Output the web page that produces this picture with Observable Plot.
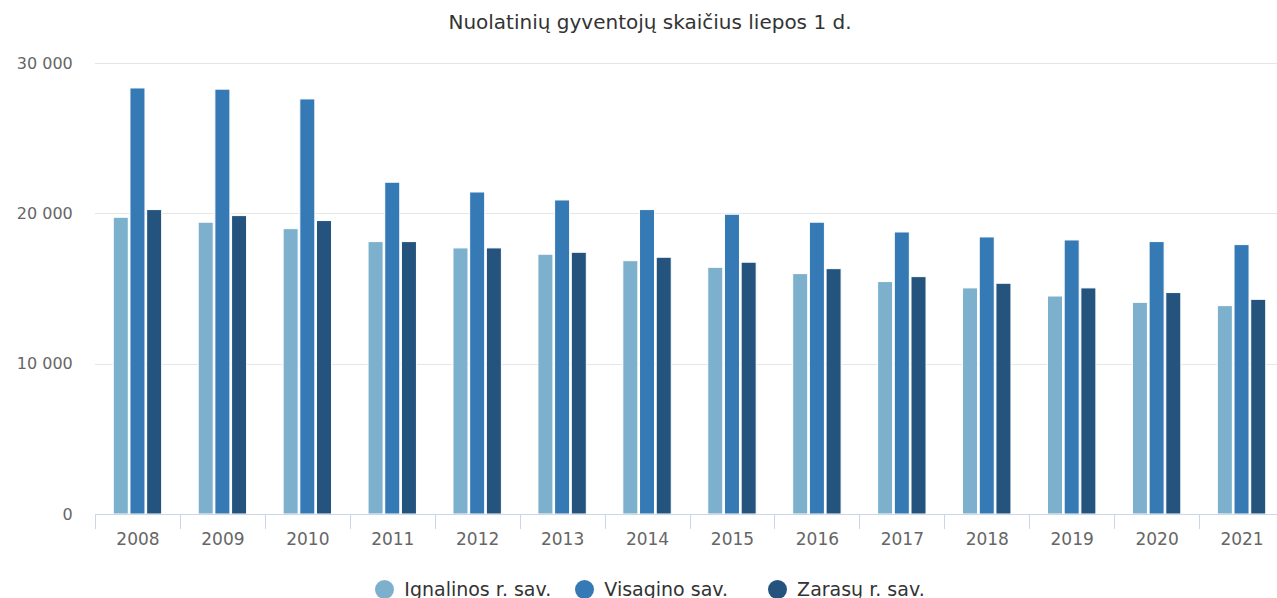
<!DOCTYPE html>
<html><head><meta charset="utf-8">
<script src="https://cdn.jsdelivr.net/npm/d3@7"></script>
<script src="https://cdn.jsdelivr.net/npm/@observablehq/plot@0.6"></script>
<style>
html,body{margin:0;padding:0;background:#fff;overflow:hidden;}
#wrap{width:1300px;font-family:"DejaVu Sans",sans-serif;}
#title{height:45px;line-height:45px;text-align:center;font-size:20px;color:#333;}
#legend{display:flex;justify-content:center;align-items:center;padding-top:15px;height:20px;font-size:19px;color:#333;}
#legend .item{display:flex;align-items:center;gap:10px;white-space:nowrap;}
#legend .item + .item{margin-left:24px;}
#legend .item:nth-child(3){margin-left:40px;}
#legend .dot{width:19px;height:19px;border-radius:50%;display:inline-block;}
</style></head><body>
<div id="wrap"><div id="title">Nuolatinių gyventojų skaičius liepos 1 d.</div><div id="chart"></div><div id="legend"></div></div>
<script>
const years = [2008,2009,2010,2011,2012,2013,2014,2015,2016,2017,2018,2019,2020,2021];
const seriesNames = ["Ignalinos r. sav.","Visagino sav.","Zarasų r. sav."];
const ignalina  = [19740,19410,18980,18120,17700,17280,16850,16410,15990,15460,15040,14500,14080,13860];
const visaginas = [28340,28260,27610,22070,21420,20890,20250,19940,19410,18760,18430,18230,18120,17920];
const zarasai   = [20250,19850,19520,18120,17700,17410,17080,16750,16320,15790,15350,15040,14730,14280];
const colors = ["#7cb0cc","#3579b5","#24547e"];
const yTicks = [0,10000,20000,30000];

const seriesValues = [ignalina, visaginas, zarasai];
const data = years.flatMap((yr,i)=>seriesNames.map((s,k)=>({year:yr, series:s, value:seriesValues[k][i]})));
const loc = d3.formatLocale({thousands:"\u00a0", grouping:[3], decimal:",", currency:["",""]});
const fmt = loc.format(",");

const plot = Plot.plot({
  width:1300, height:519, marginLeft:95, marginRight:16, marginTop:18, marginBottom:50,
  style:{fontFamily:"DejaVu Sans, sans-serif", fontSize:"17px", color:"#666", background:"#fff", overflow:"visible"},
  fx:{domain:years, paddingInner:0.43, paddingOuter:0.215, round:false, label:null, axis:null},
  x:{domain:seriesNames, paddingInner:0.1, paddingOuter:0, round:false, axis:null},
  y:{domain:[0,30000], label:null, axis:null},
  color:{domain:seriesNames, range:colors},
  marks:[
    Plot.axisY(yTicks, {tickSize:0, tickPadding:41, tickFormat:fmt, fill:"#666", fontSize:16, label:null}),
    Plot.barY(data, {fx:"year", x:"series", y:"value", fill:"series", stroke:"white", strokeWidth:1}),
    Plot.axisFx({anchor:"bottom", tickSize:0, tickPadding:18, tickFormat:d=>String(d), fill:"#666", fontSize:17, label:null})
  ]
});
document.getElementById("chart").appendChild(plot);

const svgEl = plot.tagName.toLowerCase()==="svg" ? plot : plot.querySelector("svg");
const fxs = plot.scale("fx");
const ys = plot.scale("y");
const [xL, xR] = fxs.range;
const y0 = ys.apply(0);

// horizontal grid lines (behind bars) from the y scale
d3.select(svgEl).insert("g","g").attr("stroke","#e6e6e6").attr("stroke-width",1)
  .selectAll("line").data(yTicks.filter(d=>d>0)).join("line")
  .attr("x1",xL).attr("x2",xR)
  .attr("y1",d=>Math.round(ys.apply(d))+0.5).attr("y2",d=>Math.round(ys.apply(d))+0.5);

// x axis baseline and category boundary tick marks (Highcharts style)
const off = (fxs.step - fxs.bandwidth)/2;
const bounds = years.map(yr=>fxs.apply(yr)-off).concat([fxs.apply(years[years.length-1])+fxs.bandwidth+off]);
const ax = d3.select(svgEl).append("g").attr("stroke","#ccd6eb").attr("stroke-width",1);
ax.append("line").attr("x1",xL).attr("x2",xR).attr("y1",Math.round(y0)+0.5).attr("y2",Math.round(y0)+0.5);
ax.selectAll("line.tk").data(bounds).join("line").attr("class","tk")
  .attr("x1",d=>Math.round(d)+0.5).attr("x2",d=>Math.round(d)+0.5)
  .attr("y1",y0).attr("y2",y0+15);

// legend
const lg = d3.select("#legend");
seriesNames.forEach((s,k)=>{
  const it = lg.append("span").attr("class","item");
  it.append("span").attr("class","dot").style("background",colors[k]);
  it.append("span").text(s);
});
</script>
</body></html>
